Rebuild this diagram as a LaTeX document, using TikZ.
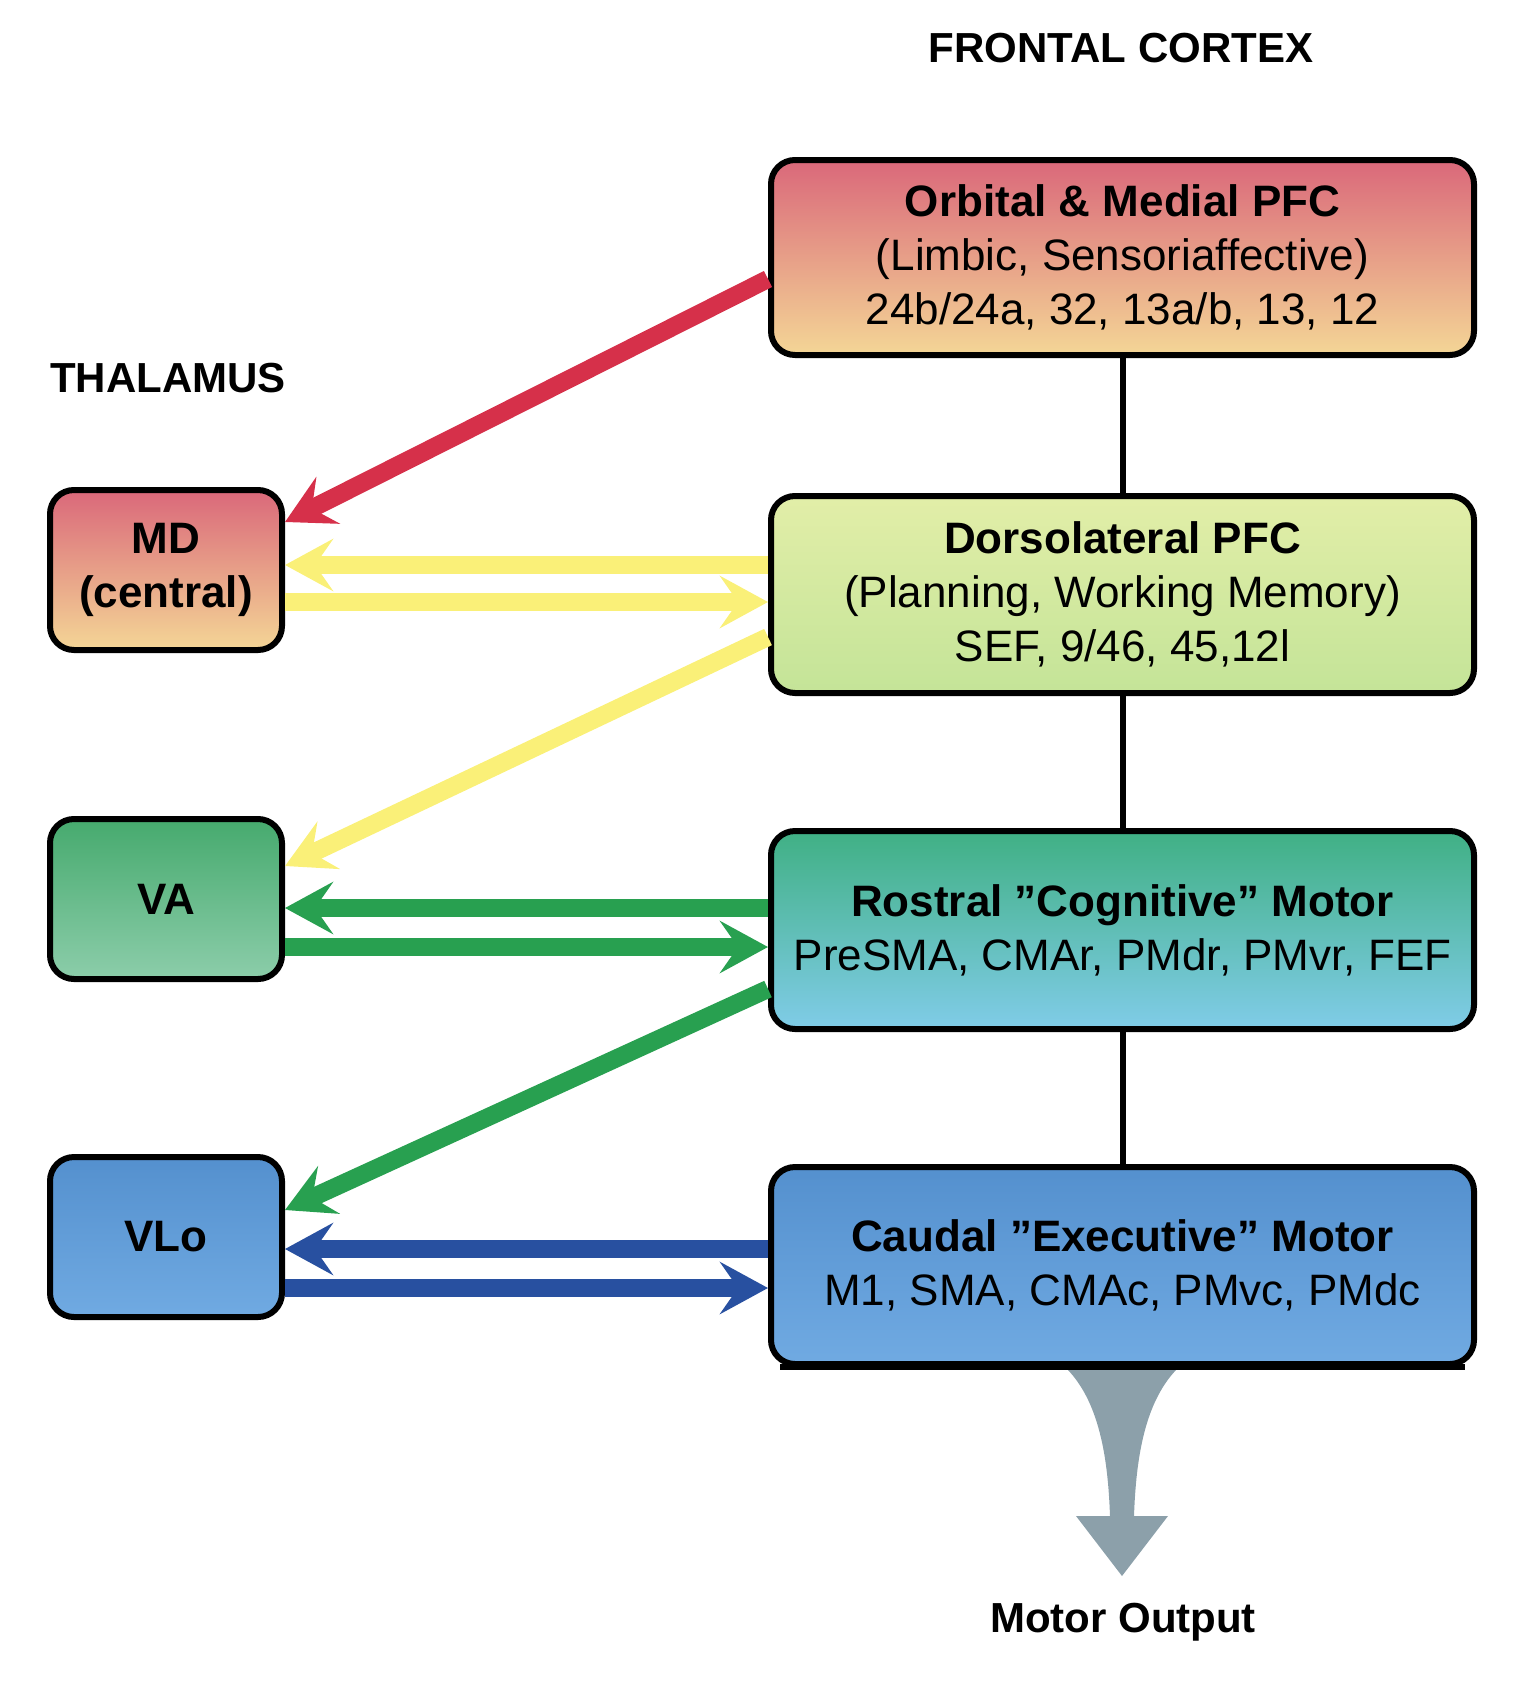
\documentclass[tikz,border=0pt]{standalone}
\usepackage{fontspec}
\setmainfont{Liberation Sans}
\usetikzlibrary{arrows.meta}
\definecolor{pinkT}{RGB}{218,104,122}
\definecolor{peachB}{RGB}{244,214,150}
\definecolor{ygT}{RGB}{226,238,168}
\definecolor{ygB}{RGB}{196,228,152}
\definecolor{tealT}{RGB}{64,176,132}
\definecolor{ltblue}{RGB}{128,204,232}
\definecolor{blueT}{RGB}{84,144,206}
\definecolor{blueB}{RGB}{112,170,226}
\definecolor{vaT}{RGB}{70,170,110}
\definecolor{vaB}{RGB}{140,205,170}
\definecolor{ared}{RGB}{214,48,74}
\definecolor{ayel}{RGB}{250,240,120}
\definecolor{agrn}{RGB}{40,160,80}
\definecolor{ablu}{RGB}{40,80,160}
\definecolor{grayout}{RGB}{140,160,170}
\tikzset{
 box/.style={draw=black,line width=3pt,rounded corners=12pt,align=center,inner sep=0pt,
   font=\fontsize{22}{27}\selectfont},
 arr/.style={line width=9pt,-{Stealth[length=24pt,width=26pt,inset=9pt]}},
 lab/.style={font=\bfseries\fontsize{21}{25}\selectfont}
}
\begin{document}
\begin{tikzpicture}[x=0.5pt,y=-0.5pt]
\useasboundingbox (0,0) rectangle (1514,1682);
% right boxes
\node[box,top color=pinkT,bottom color=peachB,minimum width=351.5pt,minimum height=97.5pt] (ofc) at (1122.5,257.5)
 {\textbf{Orbital \& Medial PFC}\\(Limbic, Sensoriaffective)\\24b/24a, 32, 13a/b, 13, 12};
\node[box,top color=ygT,bottom color=ygB,minimum width=351.5pt,minimum height=98.5pt] (dlp) at (1122.5,594.5)
 {\textbf{Dorsolateral PFC}\\(Planning, Working Memory)\\SEF, 9/46, 45,12l};
\node[box,top color=tealT,bottom color=ltblue,minimum width=351.5pt,minimum height=99pt] (rcm) at (1122.5,930)
 {\textbf{Rostral "Cognitive" Motor}\\PreSMA, CMAr, PMdr, PMvr, FEF};
\node[box,top color=blueT,bottom color=blueB,minimum width=351.5pt,minimum height=98.5pt] (cem) at (1122.5,1265.5)
 {\textbf{Caudal "Executive" Motor}\\M1, SMA, CMAc, PMvc, PMdc};
% left boxes
\node[box,top color=pinkT,bottom color=peachB,minimum width=116pt,minimum height=80pt] (md) at (166,570)
 {\textbf{MD}\\\textbf{(central)}};
\node[box,top color=vaT,bottom color=vaB,minimum width=116pt,minimum height=80pt] (va) at (166,899) {\textbf{VA}};
\node[box,top color=blueT,bottom color=blueB,minimum width=116pt,minimum height=80pt] (vlo) at (166,1237) {\textbf{VLo}};
% vertical links
\draw[line width=3pt] (ofc.south) -- (dlp.north);
\draw[line width=3pt] (dlp.south) -- (rcm.north);
\draw[line width=3pt] (rcm.south) -- (cem.north);
% titles
\node[lab] (fc) at (1121,48) {FRONTAL CORTEX};
\node[lab] (th) at (168,378) {THALAMUS};
\node[lab] (mo) at (1123,1622) {Motor Output};
% arrows
\draw[arr,ared] (ofc.west |- 0,279) -- (md.east |- 0,522);
\draw[arr,ayel] (dlp.west |- 0,565) -- (md.east |- 0,565);
\draw[arr,ayel] (md.east |- 0,602) -- (dlp.west |- 0,602);
\draw[arr,ayel] (dlp.west |- 0,637) -- (va.east |- 0,866);
\draw[arr,agrn] (rcm.west |- 0,908) -- (va.east |- 0,908);
\draw[arr,agrn] (va.east |- 0,947) -- (rcm.west |- 0,947);
\draw[arr,agrn] (rcm.west |- 0,989) -- (vlo.east |- 0,1210);
\draw[arr,ablu] (cem.west |- 0,1249) -- (vlo.east |- 0,1249);
\draw[arr,ablu] (vlo.east |- 0,1288) -- (cem.west |- 0,1288);
% motor output funnel
\fill[grayout] (1064,1366) .. controls (1100,1400) and (1108,1460) .. (1110,1516)
 -- (1076,1516) -- (1122,1576) -- (1168,1516) -- (1134,1516)
 .. controls (1136,1460) and (1144,1400) .. (1180,1366) -- cycle;
\draw[line width=3pt] (cem.south west) ++(12,0) -- ([xshift=-6]cem.south east);
\end{tikzpicture}
\end{document}
